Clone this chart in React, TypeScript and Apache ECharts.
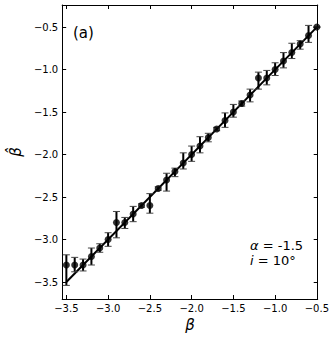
import React, { useEffect, useRef } from "react";
import * as echarts from "echarts";

const betaTrue = [-3.5, -3.4, -3.3, -3.2, -3.1, -3.0, -2.9, -2.8, -2.7, -2.6, -2.5, -2.4, -2.3, -2.2, -2.1, -2.0, -1.9, -1.8, -1.7, -1.6, -1.5, -1.4, -1.3, -1.2, -1.1, -1.0, -0.9, -0.8, -0.7, -0.6, -0.5];
const betaHat = [-3.3, -3.3, -3.3, -3.2, -3.1, -3.0, -2.8, -2.8, -2.7, -2.6, -2.6, -2.4, -2.3, -2.2, -2.1, -2.0, -1.9, -1.8, -1.7, -1.6, -1.5, -1.4, -1.3, -1.1, -1.1, -1.0, -0.9, -0.8, -0.7, -0.6, -0.5];
const errLow = [0.24, 0.08, 0.07, 0.1, 0.05, 0.08, 0.18, 0.07, 0.09, 0.02, 0.09, 0.02, 0.13, 0.06, 0.07, 0.08, 0.08, 0.05, 0.02, 0.08, 0.06, 0.03, 0.08, 0.13, 0.08, 0.07, 0.08, 0.07, 0.06, 0.08, 0.0];
const errHigh = [0.12, 0.09, 0.07, 0.1, 0.05, 0.08, 0.13, 0.06, 0.09, 0.02, 0.14, 0.02, 0.08, 0.04, 0.12, 0.1, 0.11, 0.05, 0.02, 0.09, 0.09, 0.03, 0.07, 0.07, 0.09, 0.08, 0.1, 0.11, 0.04, 0.12, 0.0];
const fitLine = [[-3.5, -3.5], [-0.5, -0.5]];
const tickValues = [-3.5, -3.0, -2.5, -2.0, -1.5, -1.0, -0.5];

const fmt = (v: number) => v.toFixed(1).replace("-", "\u2212");
const FONT = "DejaVu Sans";

export default function App() {
  const ref = useRef<HTMLDivElement>(null);
  useEffect(() => {
    document.body.style.margin = "0";
    const chart = echarts.init(ref.current!, null, { renderer: "svg" });
    const axisLine = { show: true, onZero: false, lineStyle: { color: "#000", width: 1 } };
    const tick = { show: true, inside: true, length: 4, customValues: tickValues, lineStyle: { color: "#000", width: 1 } };
    const xCommon = { type: "value", min: -3.55, max: -0.49, splitLine: { show: false }, axisLine };
    const yCommon = { type: "value", min: -3.7, max: -0.24, splitLine: { show: false }, axisLine };
    const annStyle = (text: string) => ({
      text,
      fontFamily: FONT,
      fontSize: 13,
      lineHeight: 12,
      fill: "#000",
      rich: { it: { fontFamily: FONT, fontStyle: "italic", fontSize: 13, lineHeight: 12, fill: "#000" } },
    });
    chart.setOption({
      animation: false,
      backgroundColor: "#fff",
      grid: { left: 55, right: 13, top: 5, bottom: 40 },
      xAxis: [
        {
          ...xCommon,
          position: "bottom",
          axisTick: tick,
          axisLabel: { customValues: tickValues, formatter: fmt, color: "#000", fontFamily: FONT, fontSize: 10, margin: 4 },
          name: "\u03b2",
          nameLocation: "middle",
          nameGap: 12,
          nameTextStyle: { fontFamily: FONT, fontStyle: "italic", fontSize: 15, color: "#000", verticalAlign: "top" },
        },
        { ...xCommon, position: "top", axisTick: tick, axisLabel: { show: false } },
      ],
      yAxis: [
        {
          ...yCommon,
          position: "left",
          axisTick: tick,
          axisLabel: { customValues: tickValues, formatter: fmt, color: "#000", fontFamily: FONT, fontSize: 10, margin: 4 },
          name: "\u03b2\u0302",
          nameLocation: "middle",
          nameGap: 35,
          nameRotate: 90,
          nameTextStyle: { fontFamily: FONT, fontStyle: "italic", fontSize: 15, color: "#000" },
        },
        { ...yCommon, position: "right", axisTick: tick, axisLabel: { show: false } },
      ],
      series: [
        {
          type: "line",
          data: fitLine,
          showSymbol: false,
          symbol: "none",
          lineStyle: { color: "#000", width: 2 },
          z: 2,
        },
        {
          type: "custom",
          data: betaTrue.map((x, i) => [x, betaHat[i], errLow[i], errHigh[i]]),
          renderItem: (params: any, api: any) => {
            const x = api.value(0);
            const y = api.value(1);
            const top = api.coord([x, y + api.value(3)]);
            const bot = api.coord([x, y - api.value(2)]);
            const hw = 3.5;
            return {
              type: "group",
              children: [
                { type: "line", shape: { x1: top[0], y1: top[1], x2: bot[0], y2: bot[1] }, style: { stroke: "#000", lineWidth: 2 } },
                { type: "line", shape: { x1: top[0] - hw, y1: top[1], x2: top[0] + hw, y2: top[1] }, style: { stroke: "#444", lineWidth: 1 } },
                { type: "line", shape: { x1: bot[0] - hw, y1: bot[1], x2: bot[0] + hw, y2: bot[1] }, style: { stroke: "#444", lineWidth: 1 } },
              ],
            };
          },
          z: 3,
        },
        {
          type: "scatter",
          data: betaTrue.map((x, i) => [x, betaHat[i]]),
          symbol: "circle",
          symbolSize: 7,
          itemStyle: { color: "#000" },
          z: 4,
        },
      ],
      graphic: [
        { type: "text", left: 73, top: 25, style: { text: "(a)", fontFamily: FONT, fontSize: 15, fill: "#000" } },
        { type: "text", left: 250, top: 239, style: annStyle("{it|\u03b1} = -1.5") },
        { type: "text", left: 250, top: 254, style: annStyle("{it|i} = 10\u00b0") },
      ],
    });
    return () => chart.dispose();
  }, []);
  return <div ref={ref} style={{ width: 332, height: 339 }} />;
}
